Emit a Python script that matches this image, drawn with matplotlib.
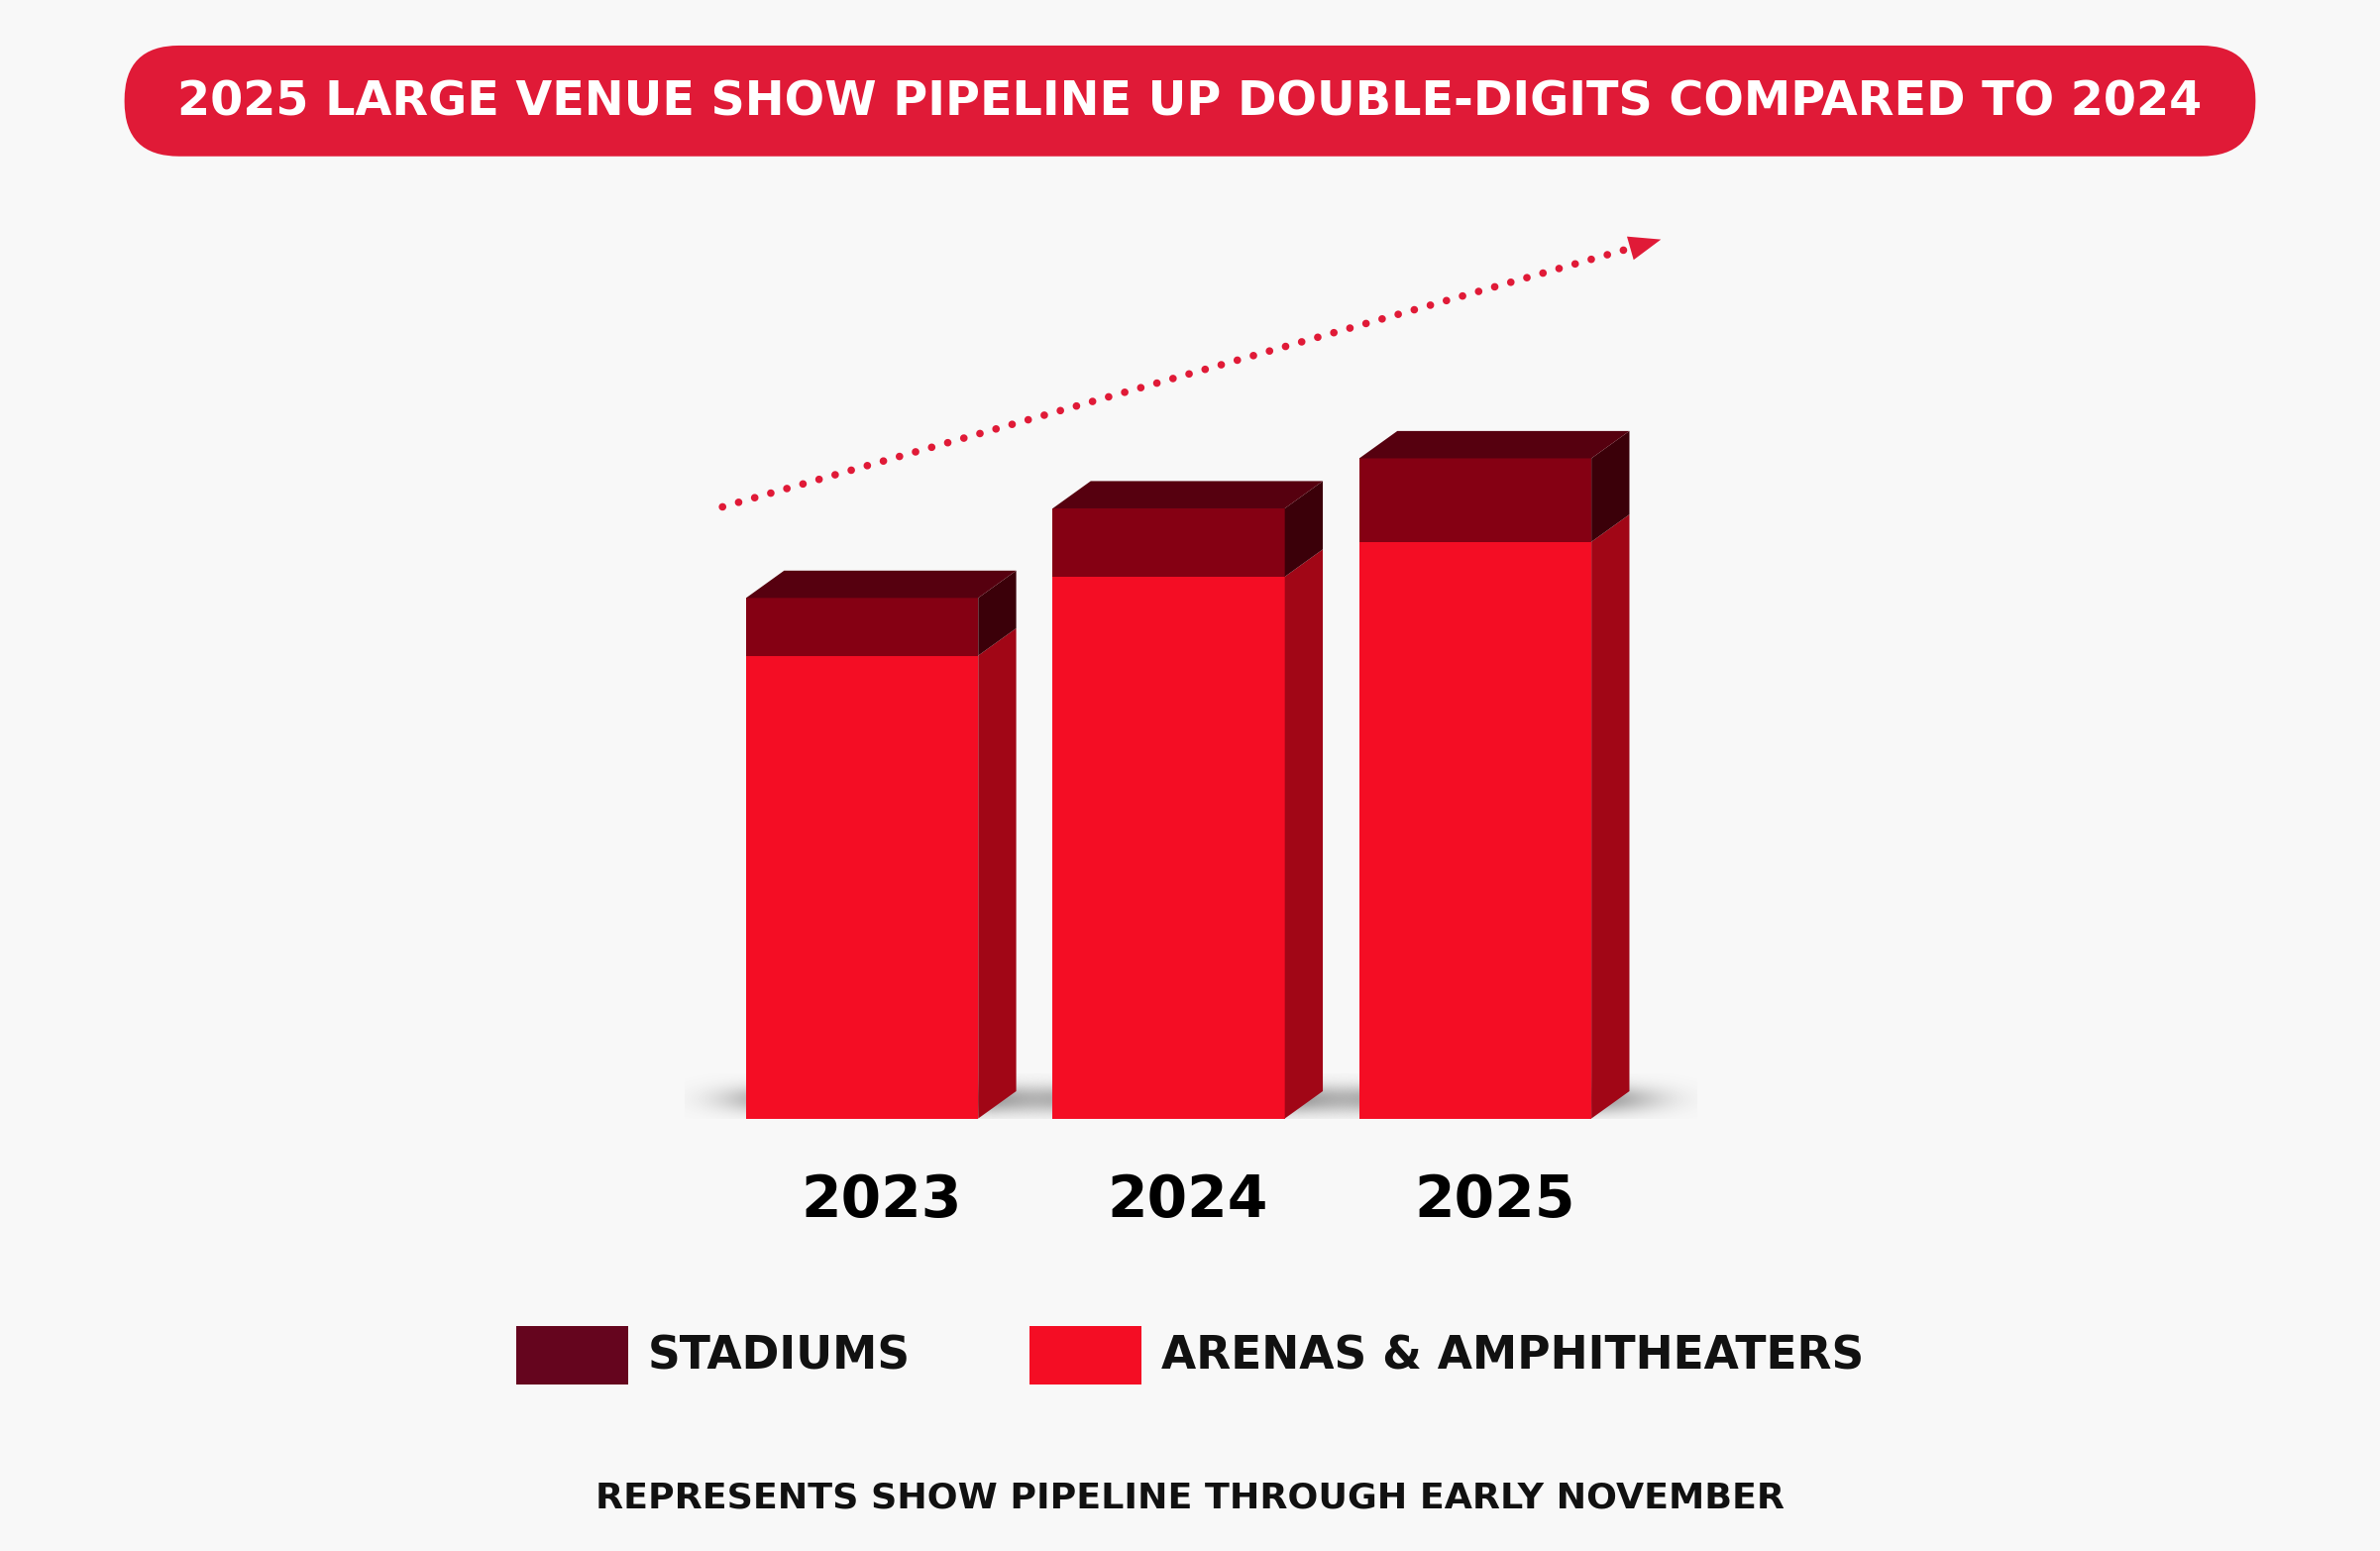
import numpy as np
import matplotlib.pyplot as plt
from matplotlib.patches import Polygon, FancyBboxPatch, Rectangle

# data (bar heights, arbitrary units)
years = ["2023", "2024", "2025"]
arenas = [305, 357, 380]
stadiums = [38, 45, 55]

title = "2025 LARGE VENUE SHOW PIPELINE UP DOUBLE-DIGITS COMPARED TO 2024"
legend_labels = ["STADIUMS", "ARENAS & AMPHITHEATERS"]
note = "REPRESENTS SHOW PIPELINE THROUGH EARLY NOVEMBER"

BG = "#F8F8F8"
PILL = "#E01A37"
ARENA_FRONT = "#F40D24"
ARENA_SIDE = "#A10616"
STAD_FRONT = "#850013"
STAD_SIDE = "#3B0009"
STAD_TOP = "#56000F"
LEG_STAD = "#65051E"

plt.rcParams["font.family"] = ["DejaVu Sans"]

fig = plt.figure(figsize=(24.02, 15.65), dpi=100, facecolor=BG)

# decoration layer in reference-pixel units
W, H = 1568, 1022
deco = fig.add_axes([0, 0, 1, 1])
deco.set_xlim(0, W)
deco.set_ylim(H, 0)
deco.axis("off")
deco.set_facecolor(BG)

pill = FancyBboxPatch((82, 30), 1404, 73, boxstyle="round,pad=0,rounding_size=36",
                      facecolor=PILL, edgecolor="none")
deco.add_patch(pill)
deco.text(784, 67, title, color="white", fontsize=34.3, fontweight="bold",
          ha="center", va="center")

# dotted trend arrow
p0 = np.array([476, 334])
p1 = np.array([1076, 163])
deco.plot([p0[0], p1[0]], [p0[1], p1[1]], color=PILL, lw=5.5,
          linestyle=(0, (0.01, 2.2)), dash_capstyle="round")
d = (p1 - p0) / np.linalg.norm(p1 - p0)
n = np.array([d[1], -d[0]])
tip = p1 + d * 19
base = tip - d * 21
deco.add_patch(Polygon([tip, base + n * 8, base - n * 8], closed=True,
                       facecolor=PILL, edgecolor="none"))

# legend
for (x0, label, col) in [(340, legend_labels[0], LEG_STAD), (678, legend_labels[1], ARENA_FRONT)]:
    deco.add_patch(Rectangle((x0, 874), 74, 38, facecolor=col, edgecolor="none"))
    deco.text(x0 + 87, 894, label, fontsize=32.8, fontweight="bold", color="#111111",
              ha="left", va="center")

deco.text(784, 987, note, fontsize=26.2, fontweight="bold", color="#111111",
          ha="center", va="center")

# bars
ax = fig.add_axes([366 / W, 1 - 737 / H, 808 / W, 600 / H])
ax.set_xlim(-1, 3)
ax.set_ylim(0, 600)
ax.axis("off")
ax.patch.set_alpha(0)

x = np.arange(len(years))
bw = 0.757
dx, dy = 0.124, 18

# soft floor shadows
gx = np.linspace(-1, 1, 200)
gy = np.linspace(-1, 1, 60)
GX, GY = np.meshgrid(gx, gy)
alpha = np.exp(-(GX ** 4 * 3.0 + GY ** 2 * 3.5)) * 0.8
shadow = np.zeros((60, 200, 4))
shadow[..., :3] = 0.40
shadow[..., 3] = alpha
for xi in x:
    ax.imshow(shadow, extent=[xi - bw / 2 - 0.2, xi + bw / 2 + dx + 0.22, -4, 30],
              aspect="auto", zorder=0, interpolation="bilinear")

ax.bar(x, arenas, width=bw, color=ARENA_FRONT, zorder=2)
ax.bar(x, stadiums, width=bw, bottom=arenas, color=STAD_FRONT, zorder=2)

for xi, a, s in zip(x, arenas, stadiums):
    l, r = xi - bw / 2, xi + bw / 2
    t = a + s
    ax.add_patch(Polygon([(r, 0), (r + dx, dy), (r + dx, a + dy), (r, a)],
                         facecolor=ARENA_SIDE, edgecolor="none", zorder=2))
    ax.add_patch(Polygon([(r, a), (r + dx, a + dy), (r + dx, t + dy), (r, t)],
                         facecolor=STAD_SIDE, edgecolor="none", zorder=2))
    ax.add_patch(Polygon([(l, t), (r, t), (r + dx, t + dy), (l + dx, t + dy)],
                         facecolor=STAD_TOP, edgecolor="none", zorder=2))
    ax.text(xi + dx / 2, -54, years[xi], fontsize=42, fontweight="bold",
            color="black", ha="center", va="center", clip_on=False)

ax.set_xlim(-1, 3)
ax.set_ylim(0, 600)

fig.savefig("out.png", dpi=100, facecolor=BG)
